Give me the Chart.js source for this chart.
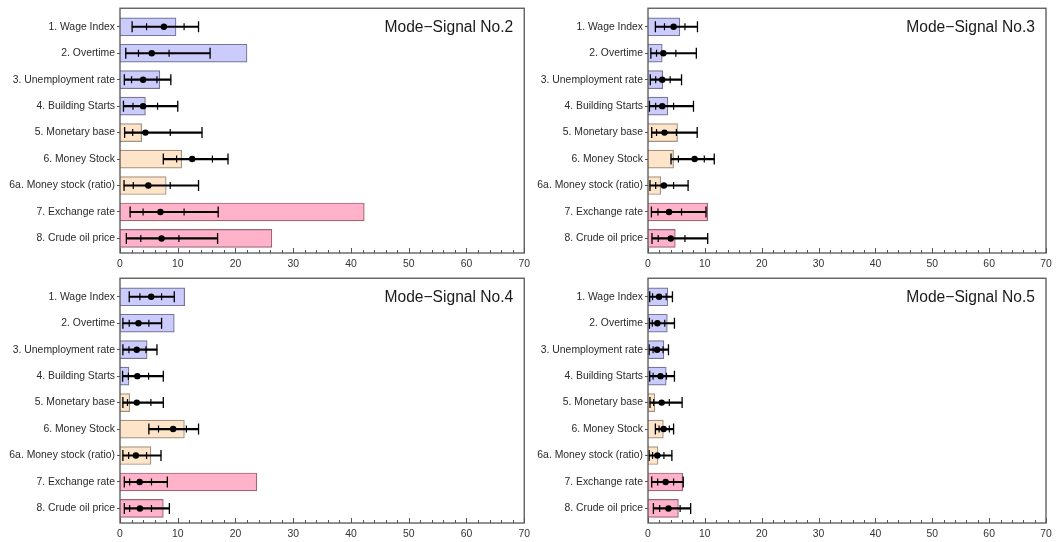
<!DOCTYPE html>
<html>
    <head>
        <title>Mode-Signal Contributions</title>
        <style>
            body
            {
                margin: 0;
                background: #ffffff;
            }

            canvas
            {
                position: absolute;
            }
        </style>
        <script src="https://cdn.jsdelivr.net/npm/chart.js"></script>
    </head>
    <body>
        <canvas id="no2" width="535" height="270" style="left: 0px; top: 0px;"></canvas>
        <canvas id="no3" width="531" height="270" style="left: 530px; top: 0px;"></canvas>
        <canvas id="no4" width="535" height="272" style="left: 0px; top: 270px;"></canvas>
        <canvas id="no5" width="531" height="272" style="left: 530px; top: 270px;"></canvas>
        <script>
            const categories = ["1. Wage Index", "2. Overtime", "3. Unemployment rate", "4. Building Starts",
                "5. Monetary base", "6. Money Stock", "6a. Money stock (ratio)", "7. Exchange rate", "8. Crude oil price"];
            const groups = [0, 0, 0, 0, 1, 1, 1, 2, 2];
            const xTicks = [0, 10, 20, 30, 40, 50, 60, 70];

            // Mode-Signal No.2
            const bars2 = [9.7, 22.0, 6.9, 4.4, 3.75, 10.7, 8.0, 42.3, 26.3];
            const low2  = [2.1, 1.0, 0.75, 0.6, 0.8, 7.5, 0.7, 1.75, 1.1];
            const q1No2 = [4.6, 3.2, 2.0, 2.25, 2.2, 9.8, 2.3, 4.0, 3.6];
            const mid2  = [7.6, 5.5, 4.0, 4.0, 4.4, 12.5, 4.9, 7.0, 7.2];
            const q3No2 = [11.1, 8.5, 6.4, 6.5, 8.7, 16.0, 8.7, 11.1, 10.2];
            const high2 = [13.6, 15.6, 8.8, 10.0, 14.2, 18.7, 13.6, 17.0, 16.9];

            // Mode-Signal No.3
            const bars3 = [5.6, 2.5, 2.6, 3.5, 5.2, 4.5, 2.25, 10.5, 4.8];
            const low3  = [1.3, 0.5, 0.4, 0.25, 0.65, 4.05, 0.35, 0.6, 0.7];
            const q1No3 = [2.9, 1.5, 1.35, 1.35, 1.5, 5.35, 1.35, 1.75, 1.8];
            const mid3  = [4.5, 2.7, 2.5, 2.5, 2.9, 8.2, 2.8, 3.7, 4.0];
            const q3No3 = [6.5, 4.9, 3.9, 4.5, 5.0, 9.9, 4.5, 5.9, 6.5];
            const high3 = [8.7, 8.5, 5.9, 8.0, 8.65, 11.65, 7.05, 10.2, 10.5];

            // Mode-Signal No.4
            const bars4 = [11.2, 9.4, 4.7, 1.55, 1.7, 11.15, 5.35, 23.7, 7.5];
            const low4  = [1.6, 0.5, 0.5, 0.45, 0.5, 5.0, 0.5, 0.75, 0.75];
            const q1No4 = [3.45, 1.6, 1.55, 1.45, 1.3, 6.67, 1.5, 1.67, 1.67];
            const mid4  = [5.4, 3.2, 2.9, 3.0, 2.9, 9.2, 2.75, 3.4, 3.45];
            const q3No4 = [7.2, 5.0, 4.5, 4.95, 5.35, 11.5, 4.6, 5.45, 5.45];
            const high4 = [9.4, 7.2, 6.4, 7.5, 7.5, 13.6, 7.1, 8.2, 8.55];

            // Mode-Signal No.5
            const bars5 = [3.5, 3.4, 2.8, 3.2, 1.2, 2.7, 1.75, 6.1, 5.35];
            const low5  = [0.3, 0.25, 0.2, 0.3, 0.35, 1.3, 0.2, 0.65, 0.95];
            const q1No5 = [0.8, 0.75, 0.9, 0.9, 1.0, 1.95, 0.8, 1.7, 2.05];
            const mid5  = [1.95, 1.65, 1.6, 2.2, 2.4, 2.75, 1.65, 3.1, 3.6];
            const q3No5 = [3.2, 2.95, 2.65, 3.25, 3.75, 3.75, 2.8, 4.5, 5.65];
            const high5 = [4.3, 4.65, 3.6, 4.65, 6.0, 4.5, 4.2, 6.2, 7.5];

            const fills = ["#ccccfc", "#fee4c8", "#ffb2ca"];
            const edges = ["#76769a", "#a3927e", "#98687a"];
            const fontFamily = "'Liberation Sans', Arial, sans-serif";

            const pts = vals => vals.map((v, i) => ({x: v, y: i}));

            function framePlugin(title)
            {
                return {
                    id: "frame",
                    afterDraw(chart)
                    {
                        const ctx = chart.ctx;
                        const a = chart.chartArea;
                        const x = chart.scales.x;
                        ctx.save();
                        ctx.strokeStyle = "#555555";
                        ctx.lineWidth = 1;
                        // small inward ticks every 2 units along the bottom
                        for (let v = 0; v <= 70; v += 2)
                        {
                            const px = Math.round(x.getPixelForValue(v)) + 0.5;
                            const len = v % 10 === 0 ? 5 : 3;
                            ctx.beginPath();
                            ctx.moveTo(px, a.bottom);
                            ctx.lineTo(px, a.bottom - len);
                            ctx.stroke();
                        }
                        ctx.lineWidth = 1.3;
                        ctx.strokeRect(a.left, a.top, a.width, a.height);
                        ctx.fillStyle = "#1a1a1a";
                        ctx.font = "15.6px " + fontFamily;
                        ctx.textAlign = "right";
                        ctx.textBaseline = "middle";
                        ctx.fillText(title, a.right - 11, a.top + 19);
                        ctx.restore();
                    }
                };
            }

            function makeChart(id, title, bars, low, q1, mid, q3, high, box)
            {
                new Chart(document.getElementById(id), {
                    type: "bar",
                    data: {
                        datasets: [
                            {
                                type: "scatter", data: pts(mid), order: 1,
                                pointStyle: "circle", pointRadius: 3.2,
                                pointBackgroundColor: "#000000", pointBorderColor: "#000000", pointBorderWidth: 0
                            },
                            {
                                type: "scatter", data: pts(low).concat(pts(high)), order: 2,
                                pointStyle: "line", pointRotation: 90, pointRadius: 5.5,
                                pointBorderColor: "#000000", pointBorderWidth: 1.3
                            },
                            {
                                type: "scatter", data: pts(q1).concat(pts(q3)), order: 2,
                                pointStyle: "line", pointRotation: 90, pointRadius: 3.5,
                                pointBorderColor: "#000000", pointBorderWidth: 1.2
                            },
                            {
                                type: "bar", data: low.map((v, i) => ({x: [v, high[i]], y: i})), order: 3,
                                backgroundColor: "#000000", barThickness: 1.5, grouped: false
                            },
                            {
                                type: "bar", data: pts(bars), order: 4,
                                backgroundColor: groups.map(g => fills[g]),
                                borderColor: groups.map(g => edges[g]),
                                borderWidth: 1.2, barThickness: 18, grouped: false
                            }
                        ]
                    },
                    options: {
                        responsive: false,
                        animation: false,
                        indexAxis: "y",
                        layout: {padding: box.pad},
                        plugins: {
                            legend: {display: false},
                            tooltip: {enabled: false}
                        },
                        scales: {
                            x: {
                                type: "linear", min: 0, max: 70,
                                grid: {display: false, drawTicks: false},
                                border: {display: false},
                                afterBuildTicks: s => { s.ticks = xTicks.map(v => ({value: v})); },
                                ticks: {color: "#333333", font: {size: 10.4, family: fontFamily}, padding: 5, maxRotation: 0},
                                afterFit: s => { s.height = box.xh; }
                            },
                            y: {
                                type: "linear", reverse: true, min: -0.7, max: 8.55, offset: false,
                                afterBuildTicks: s => { s.ticks = categories.map((c, i) => ({value: i})); },
                                ticks: {
                                    callback: v => categories[v],
                                    color: "#2a2a2a", font: {size: 10.4, family: fontFamily}, padding: 2, autoSkip: false
                                },
                                grid: {drawOnChartArea: false, offset: false, tickLength: 3, color: "#555555"},
                                border: {display: false},
                                afterFit: s => { s.width = box.yw; }
                            }
                        }
                    },
                    plugins: [framePlugin(title)]
                });
            }

            makeChart("no2", "Mode\u2212Signal No.2", bars2, low2, q1No2, mid2, q3No2, high2,
                {pad: {top: 8, right: 0, left: 0, bottom: 0}, yw: 120, xh: 17});
            makeChart("no3", "Mode\u2212Signal No.3", bars3, low3, q1No3, mid3, q3No3, high3,
                {pad: {top: 8, right: 15, left: 0, bottom: 0}, yw: 118, xh: 17});
            makeChart("no4", "Mode\u2212Signal No.4", bars4, low4, q1No4, mid4, q3No4, high4,
                {pad: {top: 5, right: 0, left: 0, bottom: 0}, yw: 120, xh: 19});
            makeChart("no5", "Mode\u2212Signal No.5", bars5, low5, q1No5, mid5, q3No5, high5,
                {pad: {top: 5, right: 15, left: 0, bottom: 0}, yw: 118, xh: 19});
        </script>
    </body>
</html>
